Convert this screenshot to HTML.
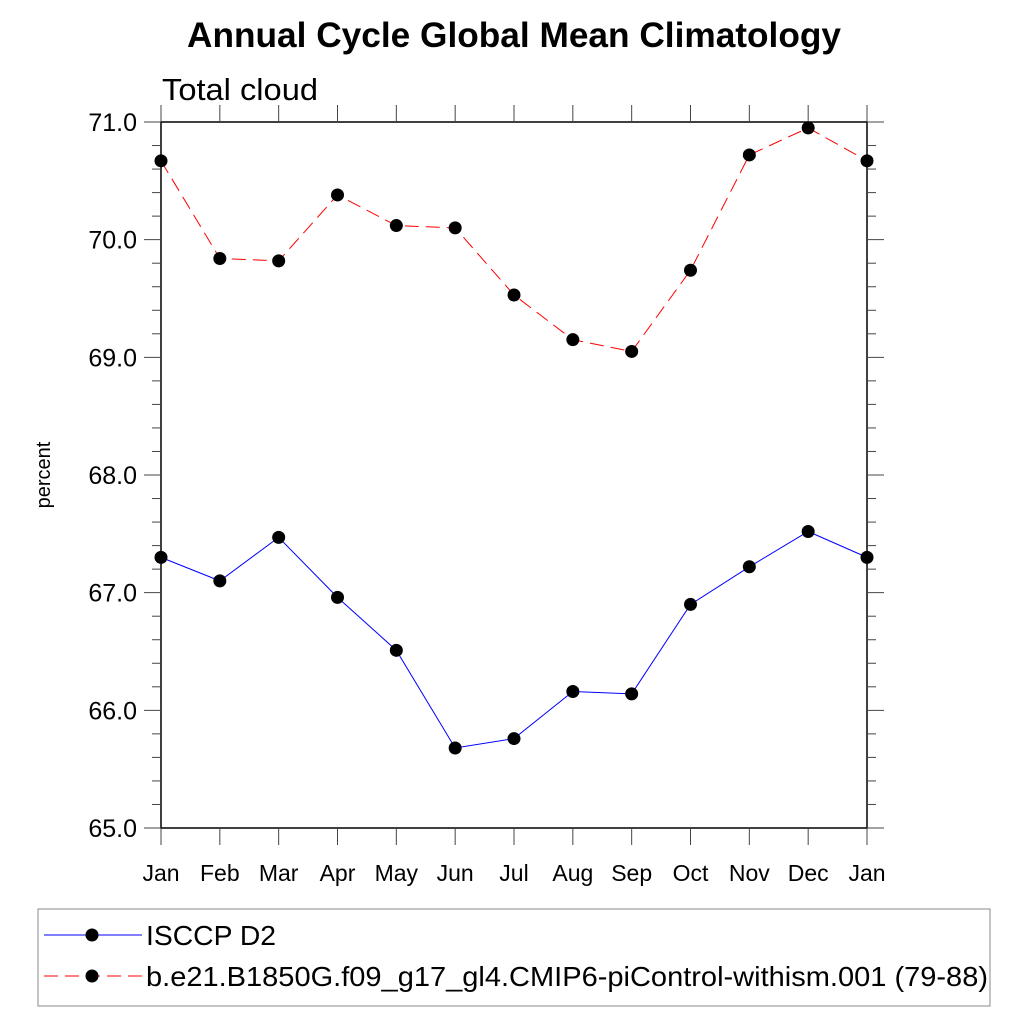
<!DOCTYPE html>
<html><head><meta charset="utf-8"><style>
body{margin:0;background:#fff;}
svg{display:block;font-family:"Liberation Sans",Arial,sans-serif;}
</style></head><body>
<svg id="chart" width="1024" height="1024" viewBox="0 0 1024 1024">
<text x="514" y="47" text-anchor="middle" font-size="35" font-weight="bold" textLength="654" lengthAdjust="spacingAndGlyphs">Annual Cycle Global Mean Climatology</text>
<text x="162" y="100" font-size="31" textLength="156" lengthAdjust="spacingAndGlyphs">Total cloud</text>
<text transform="translate(50,475) rotate(-90)" text-anchor="middle" font-size="20">percent</text>
<g id="axes"></g>
<g id="series"></g>
<rect x="38" y="909" width="952" height="97" fill="none" stroke="#888" stroke-width="1"/>
<g>
<line x1="44" y1="935" x2="142" y2="935" stroke="#0000ff" stroke-width="1"/>
<circle cx="92" cy="935" r="6.5" fill="#000"/>
<text x="146" y="945" font-size="28" textLength="130" lengthAdjust="spacingAndGlyphs">ISCCP D2</text>
</g>
<g>
<line x1="44" y1="976" x2="142" y2="976" stroke="#ff0000" stroke-width="1" stroke-dasharray="14,7"/>
<circle cx="92" cy="976" r="6.5" fill="#000"/>
<text x="146" y="986" font-size="28" textLength="842" lengthAdjust="spacingAndGlyphs">b.e21.B1850G.f09_g17_gl4.CMIP6-piControl-withism.001 (79-88)</text>
</g>
</svg>
<script>
const months = ["Jan","Feb","Mar","Apr","May","Jun","Jul","Aug","Sep","Oct","Nov","Dec","Jan"];
const obsValues = [67.30,67.10,67.47,66.96,66.51,65.68,65.76,66.16,66.14,66.90,67.22,67.52,67.30];
const modelValues = [70.67,69.84,69.82,70.38,70.12,70.10,69.53,69.15,69.05,69.74,70.72,70.95,70.67];
const yTicks = [65,66,67,68,69,70,71];
const yTickLabels = ["65.0","66.0","67.0","68.0","69.0","70.0","71.0"];

const NS="http://www.w3.org/2000/svg";
const X0=161,X1=867,Y0=828,Y1=122,YMIN=65,YMAX=71;
const xs=i=>X0+(X1-X0)*i/(months.length-1);
const ys=v=>Y0-(v-YMIN)/(YMAX-YMIN)*(Y0-Y1);
function mk(tag,attrs,parent){const e=document.createElementNS(NS,tag);for(const k in attrs)e.setAttribute(k,attrs[k]);parent.appendChild(e);return e;}
const axes=document.getElementById('axes'),ser=document.getElementById('series');
const frame=mk('rect',{x:X0,y:Y1,width:X1-X0,height:Y0-Y1,fill:'none',stroke:'#000','stroke-width':1.5},axes);


for(let v=YMIN;v<=YMAX+1e-9;v+=0.2){
  const y=ys(v);const major=Math.abs(v-Math.round(v))<1e-6;const L=major?17:9;
  mk('line',{x1:X0-L,y1:y,x2:X0,y2:y,stroke:'#444','stroke-width':1},axes);
  mk('line',{x1:X1,y1:y,x2:X1+L,y2:y,stroke:'#444','stroke-width':1},axes);
}
yTicks.forEach((v,i)=>{
  const t=mk('text',{x:X0-24,y:ys(v)+9,'text-anchor':'end','font-size':25},axes);
  t.textContent=yTickLabels[i];
  
  
});
months.forEach((m,i)=>{
  const x=xs(i);
  mk('line',{x1:x,y1:Y0,x2:x,y2:Y0+17,stroke:'#444','stroke-width':1},axes);
  mk('line',{x1:x,y1:Y1-17,x2:x,y2:Y1,stroke:'#444','stroke-width':1},axes);
  const t=mk('text',{x:x,y:881,'text-anchor':'middle','font-size':23},axes);
  t.textContent=m;
  
  
});
function series(vals,color,dash,name){
  const p=mk('polyline',{points:vals.map((v,i)=>xs(i)+','+ys(v)).join(' '),fill:'none',stroke:color,'stroke-width':1,'stroke-dasharray':dash},ser);
  
  
  vals.forEach((v,i)=>{
    const c=mk('circle',{cx:xs(i),cy:ys(v),r:6.5,fill:'#000'},ser);
    
    
  });
}
series(obsValues,'#0000ff','none','isccp');
series(modelValues,'#ff0000','14,7','model');
</script>
</body></html>
